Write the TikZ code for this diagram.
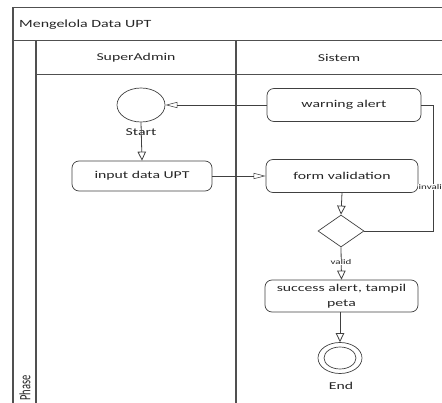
\documentclass[tikz,border=0pt]{standalone}
\usepackage{fontspec}
\setmainfont{Carlito}
\usetikzlibrary{arrows.meta,shapes.geometric}

% the drawing is set with glyphs widened horizontally
\newcommand{\stretchtxt}[1]{\scalebox{1.5}[1]{#1}}

\definecolor{lineclr}{HTML}{404040}
\definecolor{frameclr}{HTML}{505050}
\definecolor{textclr}{HTML}{262626}

\tikzset{
  framev/.style={draw=frameclr, line width=1.5pt},
  frameh/.style={draw=frameclr, line width=1.0pt},
  lanev/.style={draw=frameclr, line width=1.2pt},
  laneh/.style={draw=frameclr, line width=0.8pt},
  actbox/.style={draw=lineclr, line width=0.7pt, rounded corners=7pt,
    inner sep=2pt, font=\fontsize{10.5}{14.5}\selectfont,
    text=textclr, align=center},
  nodeshape/.style={draw=lineclr, line width=0.7pt, inner sep=0},
  vflow/.style={draw=lineclr, line width=0.8pt,
    -{Triangle[open, length=9pt, width=8.5pt]}},
  hflow/.style={draw=lineclr, line width=0.55pt,
    -{Triangle[open, length=12pt, width=6pt]}},
  plainflow/.style={draw=lineclr, line width=0.6pt},
  guard/.style={font=\fontsize{7.3}{8}\selectfont, text=textclr,
    fill=white, inner sep=0.5pt},
  lbl/.style={font=\fontsize{10.5}{12}\selectfont, text=textclr},
}

\begin{document}
\begin{tikzpicture}[x=1pt,y=-1pt]
  \useasboundingbox (0,0) rectangle (442,403);
  \clip (0,0) rectangle (442,403);

  % swimlane frame
  \draw[framev] (13,430) -- (13,8);
  \draw[frameh] (12.25,8) -- (470,8);
  \draw[frameh] (13,41) -- (470,41);
  \draw[lanev] (36,41) -- (36,430);
  \draw[laneh] (36,74) -- (470,74);
  \draw[lanev] (236,41) -- (236,430);

  \node[lbl, anchor=west, inner sep=0, font=\fontsize{11}{12}\selectfont]
        (title) at (19,25) {\scalebox{1.45}[1]{Mengelola Data UPT}};
  \node[lbl] (lanea) at (136,57.5) {\stretchtxt{SuperAdmin}};
  \node[lbl] (laneb) at (339,57.5) {\stretchtxt{Sistem}};
  \node[lbl, rotate=90, anchor=west, inner sep=0] (phase) at (25,401)
        {\scalebox{1}[1.5]{Phase}};

  % activity nodes
  \node[nodeshape, ellipse, minimum width=48pt, minimum height=34pt]
        (start) at (141,105) {};
  \node[lbl] (startlbl) at (141,132) {\stretchtxt{Start}};
  \node[actbox, minimum width=140pt, minimum height=30pt] (input) at (142,176)
        {\stretchtxt{input data UPT}};
  \node[actbox, minimum width=154pt, minimum height=33pt] (warn) at (344,105)
        {\stretchtxt{warning alert}};
  \node[actbox, minimum width=152pt, minimum height=33pt] (form) at (342,176)
        {\stretchtxt{form validation}};
  \node[nodeshape, diamond, minimum width=46pt, minimum height=32pt]
        (dec) at (341,231) {};
  \node[actbox, minimum width=153pt, minimum height=32pt] (success) at (341.5,296)
        {\stretchtxt{success alert, tampil}\\\stretchtxt{peta}};
  \node[nodeshape, ellipse, minimum width=44pt, minimum height=31pt]
        (endc) at (340,358) {};
  \node[nodeshape, ellipse, minimum width=32pt, minimum height=22pt]
        (endin) at (340,358) {};
  \node[lbl] (endlbl) at (341,386) {\stretchtxt{End}};

  % flows
  \draw[hflow] (warn.west) -- (start.east);
  \draw[vflow] (start.south) -- (input.north);
  \draw[hflow] (input.east) -- (form.west);
  \draw[vflow] (form.south) -- (dec.north);
  \draw[vflow] (dec.south) -- (success.north);
  \node[guard] (validlbl) at (341,262) {\stretchtxt{valid}};
  \draw[vflow] (success.south -| endc.north) -- (endc.north);

  \coordinate (turnlow) at (433,231);
  \coordinate (turnhigh) at (433,105);
  \draw[plainflow] (dec.east) -- (turnlow) -- (turnhigh) -- (warn.east);
  \node[guard, anchor=west] (invalidlbl) at (418,187) {\stretchtxt{invalid}};
\end{tikzpicture}
\end{document}
